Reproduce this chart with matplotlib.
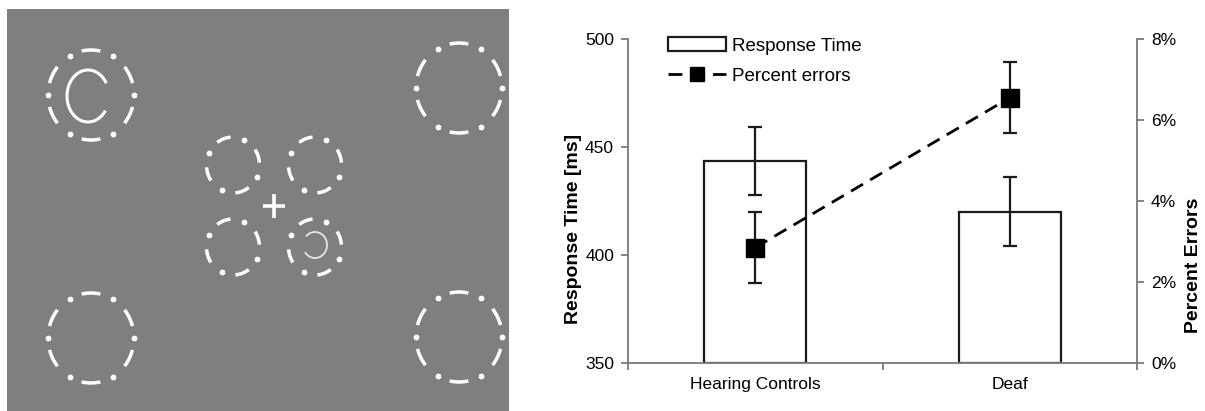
import matplotlib.pyplot as plt
import numpy as np
from matplotlib.patches import Arc, Rectangle

plt.rcParams['font.family'] = ['Liberation Sans', 'DejaVu Sans']

# stimulus display (pixel coords, y from top)
outer_centers = [(91, 95), (459, 88), (91, 338), (459, 337)]
inner_centers = [(233, 165), (315, 165), (233, 247), (315, 247)]
outer_r = (43, 45)
inner_r = (26.5, 28)
outer_dashes = [90, 28, -28, -90, -152, 152]
outer_dots = [60, 0, -60, -120, 180, 120]
inner_dashes = [110, 20, -70, -160]
inner_dots = [65, -25, -115, 155]
fixation = (274, 206)
big_c = (88, 96, 21, 26, 35, 320)       # cx, cy, rx, ry, from, to (deg)
small_c = (315, 245, 12, 13, -145, 137)

# results
groups = ['Hearing Controls', 'Deaf']
rt = [443.5, 420.0]
rt_err = [15.8, 15.9]
pct = [2.85, 6.55]
pct_err = [0.87, 0.88]

fig = plt.figure(figsize=(12.05, 4.11), dpi=100)

# ---- left panel: display ----
ax_img = fig.add_axes([0, 0, 560 / 1205, 1])
ax_img.set_xlim(0, 560)
ax_img.set_ylim(411, 0)
ax_img.axis('off')
ax_img.add_patch(Rectangle((7, 9), 502, 402, color='#7f7f7f', lw=0))


def arc(cx, cy, rx, ry, a1, a2, **kw):
    # y axis is inverted, so flip the angles
    ax_img.add_patch(Arc((cx, cy), 2 * rx, 2 * ry, theta1=-a2, theta2=-a1, **kw))


def ring(cx, cy, r, dashes, dots, half):
    rx, ry = r
    for a in dashes:
        arc(cx, cy, rx, ry, a - half, a + half, color='white', lw=2.5, capstyle='butt')
    t = np.radians(dots)
    ax_img.plot(cx + rx * np.cos(t), cy - ry * np.sin(t), 'o', color='white', ms=4.2, mew=0)


for cx, cy in outer_centers:
    ring(cx, cy, outer_r, outer_dashes, outer_dots, 12)
for cx, cy in inner_centers:
    ring(cx, cy, inner_r, inner_dashes, inner_dots, 15)

fx, fy = fixation
ax_img.plot([fx - 11, fx + 11], [fy, fy], color='white', lw=2.6, solid_capstyle='butt')
ax_img.plot([fx, fx], [fy - 12, fy + 12], color='white', lw=2.6, solid_capstyle='butt')

arc(*big_c, color='white', lw=2.2)
arc(*small_c, color='#e6e6e6', lw=1.3)

# ---- right panel: chart ----
ax = fig.add_axes([628 / 1205, 48 / 411, 509 / 1205, 324 / 411])
x = np.arange(len(groups))
bars = ax.bar(x, [v - 350 for v in rt], width=0.4, bottom=350, color='white',
              edgecolor='#1a1a1a', lw=1.6, label='Response Time')
ax.errorbar(x, rt, yerr=rt_err, fmt='none', ecolor='#1a1a1a', elinewidth=1.6,
            capsize=5, capthick=1.6)
ax.set_xlim(-0.5, 1.5)
ax.set_ylim(350, 500)
ax.set_yticks([350, 400, 450, 500])
ax.set_xticks([-0.5, 0.5, 1.5])
ax.set_xticklabels([])
ax.set_xticks(x, minor=True)
ax.set_xticklabels(groups, minor=True)
ax.tick_params(axis='x', which='minor', length=0, pad=10, labelsize=12.5)
ax.tick_params(axis='x', which='major', length=5, width=1.3, color='#7a7a7a')
ax.tick_params(axis='y', length=5, width=1.3, color='#7a7a7a', labelsize=12.5, pad=5)
ax.set_ylabel('Response Time [ms]', fontsize=14, fontweight='bold')
ax.yaxis.set_label_coords(-0.09, 0.415)
for s in ['top', 'right']:
    ax.spines[s].set_visible(False)
for s in ['left', 'bottom']:
    ax.spines[s].set_color('#7a7a7a')
    ax.spines[s].set_linewidth(1.3)

ax2 = ax.twinx()
eb = ax2.errorbar(x, pct, yerr=pct_err, fmt='s', color='black', ms=13,
                  ls=(0, (5, 3)), lw=2, ecolor='#1a1a1a', elinewidth=1.6,
                  capsize=5, capthick=1.6, label='Percent errors')
ax2.set_ylim(0, 8)
ax2.set_yticks([0, 2, 4, 6, 8])
ax2.set_yticklabels(['0%', '2%', '4%', '6%', '8%'])
ax2.tick_params(axis='y', length=5, width=1.3, color='#7a7a7a', labelsize=12.5, pad=5)
ax2.set_ylabel('Percent Errors', fontsize=14, fontweight='bold')
ax2.yaxis.set_label_coords(1.094, 0.30)
for s in ['top', 'left', 'bottom']:
    ax2.spines[s].set_visible(False)
ax2.spines['right'].set_color('#7a7a7a')
ax2.spines['right'].set_linewidth(1.3)

ax2.legend([bars, eb[0]], ['Response Time', 'Percent errors'], loc='upper left',
           bbox_to_anchor=(0.078, 1.005), frameon=False, fontsize=13.5,
           handlelength=3.1, handletextpad=0.35, labelspacing=0.7,
           markerscale=0.75, borderpad=0, borderaxespad=0)

plt.savefig('out.png', dpi=100)
